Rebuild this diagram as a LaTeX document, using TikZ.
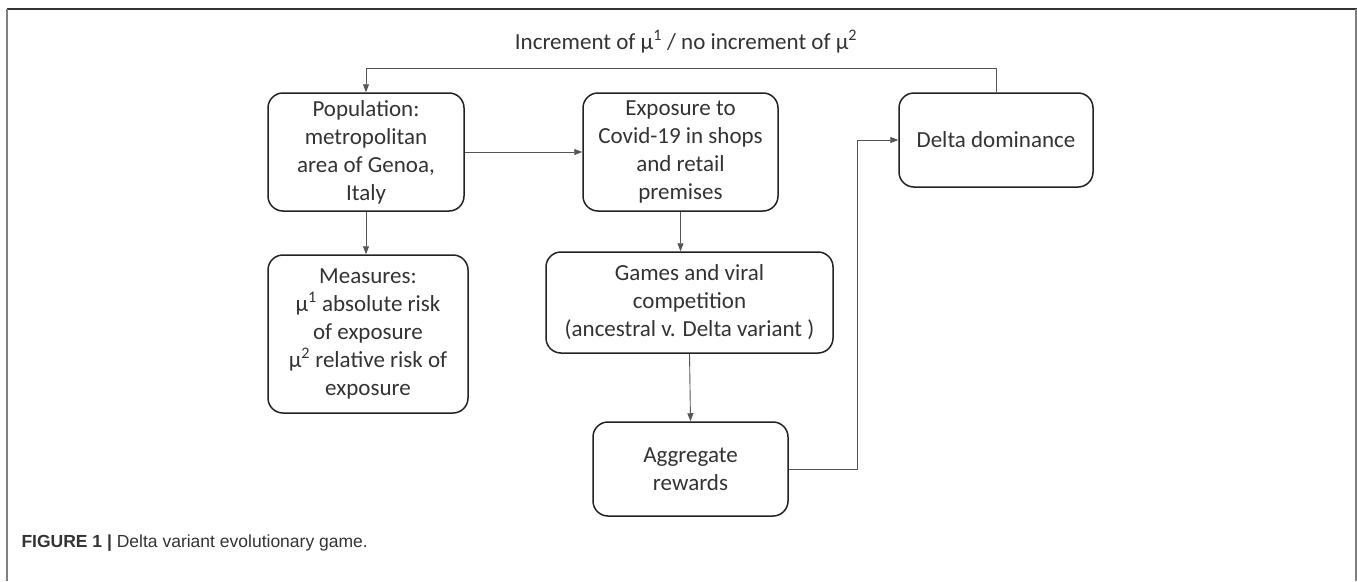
\documentclass[tikz,border=0pt]{standalone}
\usepackage{fontspec}
\setmainfont{Carlito}
\newfontfamily\capfont{Liberation Sans}
\usetikzlibrary{arrows.meta}
\definecolor{txt}{HTML}{333333}
\definecolor{boxline}{HTML}{222222}
\definecolor{conn}{HTML}{555555}
\tikzset{
  flowbox/.style={draw=boxline, line width=1.5pt, rounded corners=15pt, align=center,
    text=txt, font=\fontsize{23}{28}\selectfont, inner sep=1pt},
  conline/.style={draw=conn, line width=0.9pt},
  conarrow/.style={conline, -{Triangle[length=8pt,width=6pt]}},
}
\begin{document}
\begin{tikzpicture}[x=1pt,y=-1pt]
\useasboundingbox (0,0) rectangle (1357,581);
% frame
\draw[line width=2pt, black!80] (7,9) -- (1357,9);
\draw[line width=1.6pt, black!50] (7,9) -- (7,581);
\draw[line width=1.6pt, black!50] (1356,9) -- (1356,581);

\node[flowbox, minimum width=196pt, minimum height=118pt] (pop) at (366,152)
  {Population:\\metropolitan\\area of Genoa,\\Italy};
\node[flowbox, minimum width=195pt, minimum height=118pt] (exp) at (680.5,152)
  {Exposure to\\Covid-19 in shops\\and retail\\premises};
\node[flowbox, minimum width=200pt, minimum height=158pt] (meas) at (368,334)
  {Measures:\\ μ\textsuperscript{1} absolute risk\\of exposure\\μ\textsuperscript{2} relative risk of\\exposure};
\node[flowbox, minimum width=287pt, minimum height=101pt] (games) at (689.5,302.5)
  {Games and viral\\competition\\(ancestral v. Delta variant )};
\node[flowbox, minimum width=195pt, minimum height=94pt] (agg) at (690.5,469)
  {Aggregate\\rewards};
\node[flowbox, minimum width=194pt, minimum height=94pt] (delta) at (996,140)
  {Delta dominance};

\node[text=txt, font=\fontsize{23}{28}\selectfont] (lbl) at (686,42)
  {Increment of μ\textsuperscript{1} / no increment of μ\textsuperscript{2}};

\node[anchor=west, text=txt, font=\capfont\fontsize{17.5}{20}\selectfont] (cap) at (18,543)
  {\textbf{FIGURE 1} \textbf{|} Delta variant evolutionary game.};

\coordinate (fb) at (366,68);
\coordinate (k1) at (857,469);

\draw[conarrow] (pop.east) -- (exp.west);
\draw[conarrow] (pop.south) -- (pop.south |- meas.north);
\draw[conarrow] (exp.south) -- (exp.south |- games.north);
\draw[conarrow] (games.south) -- (agg.north);
\draw[conarrow] (agg.east) -- (k1) |- (delta.west);
\draw[conarrow] (delta.north) |- (fb) -- (pop.north);
\end{tikzpicture}
\end{document}
